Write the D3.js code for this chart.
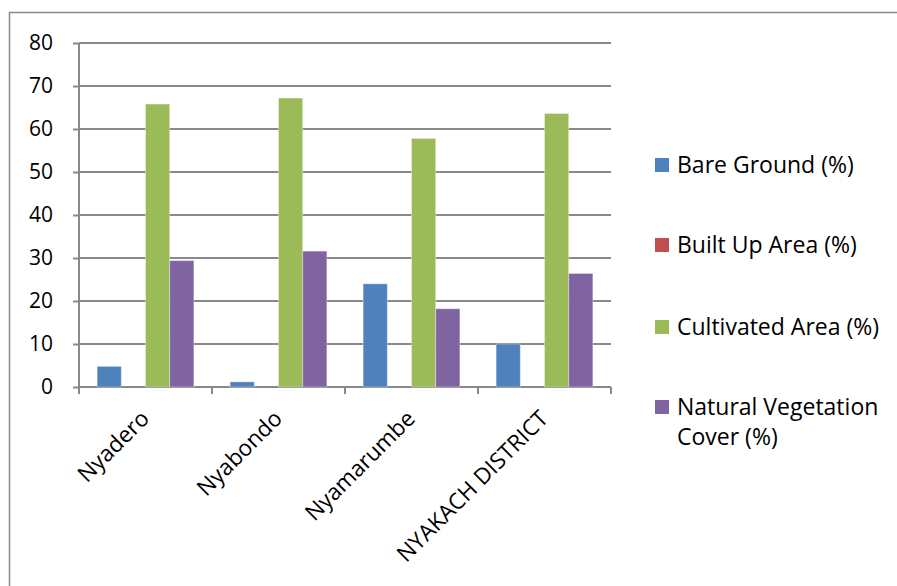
<!DOCTYPE html>
<html>
<head>
<meta charset="utf-8">
<script src="https://cdn.jsdelivr.net/npm/d3@7"></script>
<style>
  html, body { margin: 0; padding: 0; background: #fff; }
  svg { display: block; }
  text { font-family: "Open Sans", Lato, sans-serif; fill: #000; }
</style>
</head>
<body>
<svg id="chart" width="897" height="586"></svg>
<script>
// Land cover shares by location
const categories = ["Nyadero", "Nyabondo", "Nyamarumbe", "NYAKACH DISTRICT"];
const seriesNames = ["Bare Ground (%)", "Built Up Area (%)", "Cultivated Area (%)", "Natural Vegetation Cover (%)"];
const bareGround = [4.8, 1.2, 24.0, 10.0];
const builtUp = [0, 0, 0, 0];
const cultivated = [65.8, 67.2, 57.8, 63.6];
const naturalVegetation = [29.4, 31.6, 18.2, 26.4];
const yTicks = [0, 10, 20, 30, 40, 50, 60, 70, 80];
const colors = ["#4F81BD", "#C0504D", "#9BBB59", "#8064A2"];

const seriesValues = [bareGround, builtUp, cultivated, naturalVegetation];
const rows = categories.map((c, i) => ({
  category: c,
  values: seriesNames.map((s, j) => ({ series: s, value: seriesValues[j][i], color: colors[j] }))
}));

const svg = d3.select("#chart");
const plot = { left: 79, right: 611, top: 43, bottom: 387 };
const gridColor = "#898989";

// Outer chart frame
svg.append("path")
  .attr("d", "M9.5,600 V12.5 H905")
  .attr("fill", "none")
  .attr("stroke", gridColor)
  .attr("stroke-width", 1.5);

const y = d3.scaleLinear().domain([0, 80]).range([plot.bottom, plot.top]);
const x0 = d3.scaleBand().domain(categories).range([plot.left, plot.right]).padding(0);
const x1 = d3.scaleBand().domain(seriesNames).range([0, x0.bandwidth()])
  .paddingInner(0).paddingOuter(0.75);

// Value axis labels with short tick marks to the left of the axis
const yAxis = d3.axisLeft(y).tickValues(yTicks).tickSize(6).tickPadding(20)
  .tickFormat(d3.format("d"));
const gy = svg.append("g").attr("transform", `translate(${plot.left},0)`).call(yAxis);
gy.select(".domain").remove();
gy.selectAll(".tick line").attr("stroke", gridColor).attr("stroke-width", 2);
gy.selectAll(".tick text").attr("font-size", 21).attr("fill", "#000")
  .attr("font-family", "'Open Sans', Lato, sans-serif");

// Horizontal gridlines
svg.append("g").selectAll("line").data(yTicks).join("line")
  .attr("x1", plot.left).attr("x2", plot.right)
  .attr("y1", d => y(d)).attr("y2", d => y(d))
  .attr("stroke", gridColor).attr("stroke-width", 2);

// Vertical value axis line
svg.append("line")
  .attr("x1", plot.left).attr("x2", plot.left)
  .attr("y1", y(80)).attr("y2", y(0) + 6)
  .attr("stroke", gridColor).attr("stroke-width", 2);

// Category boundary ticks below the baseline
const boundaries = categories.map(c => x0(c)).concat([plot.right]);
svg.append("g").selectAll("line").data(boundaries).join("line")
  .attr("x1", d => d).attr("x2", d => d)
  .attr("y1", y(0)).attr("y2", y(0) + 7)
  .attr("stroke", gridColor).attr("stroke-width", 2);

// Bars
const groups = svg.append("g").selectAll("g").data(rows).join("g")
  .attr("transform", d => `translate(${x0(d.category)},0)`);
groups.selectAll("rect").data(d => d.values.filter(v => v.value > 0)).join("rect")
  .attr("x", d => x1(d.series))
  .attr("width", x1.bandwidth())
  .attr("y", d => y(d.value))
  .attr("height", d => y(0) - y(d.value))
  .attr("fill", d => d.color)
  .attr("stroke", "rgba(255,255,255,0.35)")
  .attr("stroke-width", 1);

// Rotated category labels
svg.append("g").selectAll("text").data(categories).join("text")
  .attr("transform", c => `translate(${x0(c) + x0.bandwidth() / 2 + 5},420) rotate(-45)`)
  .attr("text-anchor", "end")
  .attr("font-size", 22.5)
  .text(c => c);

// Legend
const legendX = 655, legendTextX = 677;
const legendY = [165, 245, 327, 407];
const legend = svg.append("g").selectAll("g").data(seriesNames).join("g")
  .attr("transform", (d, i) => `translate(0,${legendY[i]})`);
legend.append("rect")
  .attr("x", legendX).attr("y", -7).attr("width", 14).attr("height", 14)
  .attr("fill", (d, i) => colors[i]);
legend.append("text")
  .attr("x", legendTextX)
  .attr("font-size", 23)
  .each(function (d) {
    const t = d3.select(this);
    const lines = d === "Natural Vegetation Cover (%)" ? ["Natural Vegetation", "Cover (%)"] : [d];
    lines.forEach((ln, k) => {
      t.append("tspan").attr("x", legendTextX).attr("y", 8 + k * 30).text(ln);
    });
  });
</script>
</body>
</html>
